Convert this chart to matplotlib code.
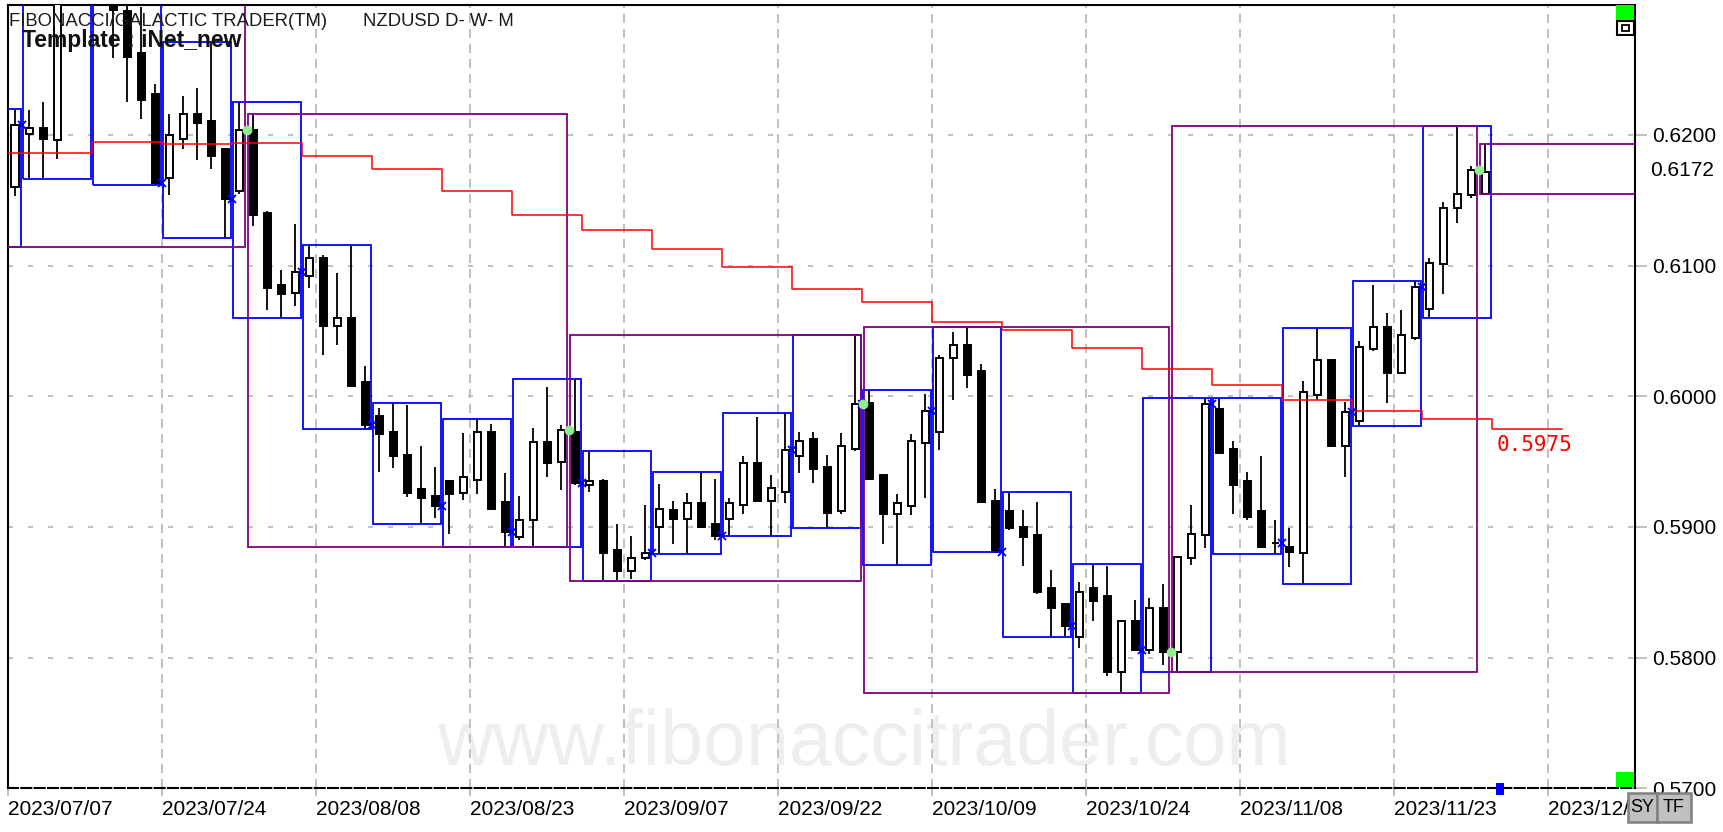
import matplotlib

matplotlib.use("Agg")
import matplotlib.pyplot as plt
import numpy as np
import pandas as pd
from matplotlib.patches import Rectangle
from matplotlib.transforms import Bbox

plt.rcParams["font.family"] = ["Liberation Sans", "DejaVu Sans"]
plt.rcParams["lines.scale_dashes"] = False

W, H = 1724, 832

# NZDUSD daily bars, 2023-07-03 .. 2023-12-01 (first four sit left of the view,
# 07/13-07/17 sit above it)
opens = [
    0.6170, 0.6165, 0.6195, 0.6190, 0.6160, 0.6201, 0.6205, 0.6196, 0.6310, 0.6375,
    0.6365, 0.6335, 0.6295, 0.6263, 0.6231, 0.6167, 0.6197, 0.6216, 0.6211, 0.6189,
    0.6157, 0.6204, 0.6140, 0.6085, 0.6079, 0.6092, 0.6106, 0.6054, 0.6060, 0.6011,
    0.5985, 0.5973, 0.5955, 0.5929, 0.5924, 0.5935, 0.5926, 0.5936, 0.5973, 0.5919,
    0.5892, 0.5905, 0.5965, 0.5950, 0.5973, 0.5932, 0.5935, 0.5882, 0.5866, 0.5876,
    0.5900, 0.5913, 0.5906, 0.5918, 0.5902, 0.5906, 0.5917, 0.5949, 0.5920, 0.5927,
    0.5954, 0.5967, 0.5946, 0.5912, 0.5960, 0.5995, 0.5940, 0.5910, 0.5916, 0.5964,
    0.5973, 0.6029, 0.6039, 0.6019, 0.5920, 0.5912, 0.5900, 0.5894, 0.5853, 0.5841,
    0.5816, 0.5853, 0.5847, 0.5789, 0.5828, 0.5806, 0.5838, 0.5804, 0.5876, 0.5894,
    0.5990, 0.5960, 0.5935, 0.5912, 0.5888, 0.5885, 0.5880, 0.6001, 0.6028, 0.5962,
    0.5981, 0.6036, 0.6053, 0.6018, 0.6045, 0.6067, 0.6101, 0.6144, 0.6154, 0.6155,
]
highs = [
    0.6190, 0.6205, 0.6220, 0.6195, 0.6219, 0.6219, 0.6225, 0.6320, 0.6385, 0.6412,
    0.6390, 0.6345, 0.6300, 0.6298, 0.6239, 0.6216, 0.6230, 0.6236, 0.6271, 0.6190,
    0.6225, 0.6216, 0.6142, 0.6097, 0.6132, 0.6116, 0.6108, 0.6094, 0.6116, 0.6023,
    0.5991, 0.5995, 0.5993, 0.5962, 0.5946, 0.5935, 0.5972, 0.5983, 0.5979, 0.5941,
    0.5924, 0.5976, 0.6007, 0.5978, 0.6013, 0.5958, 0.5937, 0.5902, 0.5893, 0.5917,
    0.5933, 0.5920, 0.5926, 0.5942, 0.5937, 0.5922, 0.5954, 0.5984, 0.5940, 0.5987,
    0.5973, 0.5973, 0.5955, 0.5972, 0.6047, 0.6005, 0.5940, 0.5925, 0.5971, 0.6002,
    0.6032, 0.6049, 0.6053, 0.6025, 0.5929, 0.5927, 0.5913, 0.5919, 0.5867, 0.5841,
    0.5858, 0.5872, 0.5870, 0.5829, 0.5844, 0.5846, 0.5856, 0.5877, 0.5917, 0.5999,
    0.5999, 0.5966, 0.5942, 0.5954, 0.5905, 0.5899, 0.6012, 0.6052, 0.6028, 0.5996,
    0.6042, 0.6085, 0.6064, 0.6066, 0.6088, 0.6106, 0.6149, 0.6207, 0.6176, 0.6193,
]
lows = [
    0.6140, 0.6160, 0.6180, 0.6114, 0.6153, 0.6166, 0.6166, 0.6182, 0.6301, 0.6350,
    0.6320, 0.6259, 0.6225, 0.6212, 0.6162, 0.6154, 0.6189, 0.6181, 0.6174, 0.6121,
    0.6155, 0.6130, 0.6066, 0.6060, 0.6069, 0.6083, 0.6032, 0.6039, 0.6008, 0.5975,
    0.5942, 0.5945, 0.5923, 0.5902, 0.5907, 0.5895, 0.5921, 0.5925, 0.5914, 0.5885,
    0.5890, 0.5885, 0.5938, 0.5928, 0.5932, 0.5927, 0.5859, 0.5859, 0.5860, 0.5875,
    0.5879, 0.5887, 0.5879, 0.5899, 0.5890, 0.5893, 0.5910, 0.5919, 0.5893, 0.5918,
    0.5941, 0.5934, 0.5899, 0.5910, 0.5958, 0.5937, 0.5887, 0.5871, 0.5909, 0.5922,
    0.5959, 0.5997, 0.6006, 0.5919, 0.5881, 0.5898, 0.5870, 0.5849, 0.5816, 0.5816,
    0.5807, 0.5828, 0.5786, 0.5773, 0.5806, 0.5803, 0.5794, 0.5789, 0.5871, 0.5884,
    0.5957, 0.5910, 0.5905, 0.5885, 0.5879, 0.5869, 0.5856, 0.5997, 0.5962, 0.5938,
    0.5977, 0.6035, 0.5995, 0.6018, 0.6043, 0.6060, 0.6078, 0.6133, 0.6152, 0.6155,
]
closes = [
    0.6165, 0.6195, 0.6190, 0.6160, 0.6208, 0.6205, 0.6197, 0.6310, 0.6375, 0.6365,
    0.6335, 0.6296, 0.6260, 0.6227, 0.6163, 0.6200, 0.6216, 0.6209, 0.6184, 0.6151,
    0.6204, 0.6139, 0.6083, 0.6078, 0.6095, 0.6106, 0.6054, 0.6060, 0.6008, 0.5978,
    0.5971, 0.5954, 0.5926, 0.5922, 0.5916, 0.5925, 0.5938, 0.5973, 0.5914, 0.5896,
    0.5905, 0.5965, 0.5949, 0.5974, 0.5934, 0.5935, 0.5880, 0.5866, 0.5876, 0.5880,
    0.5914, 0.5906, 0.5918, 0.5900, 0.5893, 0.5918, 0.5949, 0.5920, 0.5930, 0.5959,
    0.5966, 0.5944, 0.5911, 0.5962, 0.5994, 0.5937, 0.5910, 0.5918, 0.5966, 0.5989,
    0.6029, 0.6039, 0.6016, 0.5919, 0.5881, 0.5899, 0.5892, 0.5850, 0.5838, 0.5824,
    0.5850, 0.5843, 0.5789, 0.5828, 0.5806, 0.5838, 0.5804, 0.5877, 0.5895, 0.5994,
    0.5957, 0.5932, 0.5908, 0.5885, 0.5888, 0.5881, 0.6003, 0.6028, 0.5962, 0.5988,
    0.6038, 0.6053, 0.6018, 0.6047, 0.6084, 0.6102, 0.6144, 0.6155, 0.6173, 0.6172,
]

# weekly step line, one level per week from 07/03 to 12/04
red_levels = [
    0.6186, 0.6186, 0.6195, 0.6193, 0.6194, 0.6184, 0.6174, 0.6157, 0.6139, 0.6127,
    0.6113, 0.6099, 0.6082, 0.6072, 0.6057, 0.6051, 0.6037, 0.6021, 0.6009, 0.5997,
    0.5989, 0.5983, 0.5975,
]

price_ticks = [0.57, 0.58, 0.59, 0.60, 0.61, 0.62]
date_labels = [
    "2023/07/07", "2023/07/24", "2023/08/08", "2023/08/23", "2023/09/07", "2023/09/22",
    "2023/10/09", "2023/10/24", "2023/11/08", "2023/11/23", "2023/12/08",
]
label_bars = list(range(0, 111, 11))

dates = pd.bdate_range("2023-07-03", "2023-12-01")
df = pd.DataFrame(
    {"open": opens, "high": highs, "low": lows, "close": closes}, index=dates
)
df["i"] = np.arange(len(df)) - 4  # bar 0 is 2023/07/07

GRID = "#c0c0c0"
BLUE = "#0000ff"
PURPLE = "#800080"


def fx(px):
    return px / W


def fy(px):
    return 1 - px / H


fig = plt.figure(figsize=(W / 100, H / 100), dpi=100)
ax = fig.add_axes([fx(8), fy(788.3), (1635 - 8) / W, (788.3 - 5) / H])
x_right = (1635 - 15) / 14
ax.set_xlim(-0.5, x_right)
ax.set_ylim(0.57, 0.62 + 130 / 13066)

# grid
for p in price_ticks[1:]:
    ax.axhline(p, color=GRID, lw=1.4, dashes=(3.6, 10.8), zorder=1)
for b in label_bars:
    ax.axvline(b - 0.5, color=GRID, lw=1.4, dashes=(6.5, 4.3), zorder=1)

ax.text(
    fx(864), fy(745), "www.fibonaccitrader.com", transform=fig.transFigure,
    ha="center", va="center", fontsize=55.5, color="#eeeeee", zorder=0.5,
)

# candles
ax.vlines(df["i"], df["low"], df["high"], color="black", lw=1.3, zorder=3)
for xi, o, c in zip(df["i"], df["open"], df["close"]):
    ax.add_patch(
        Rectangle(
            (xi - 0.25, min(o, c)), 0.5, abs(c - o),
            facecolor="white" if c >= o else "black",
            edgecolor="black", lw=1.4, zorder=4,
        )
    )

# weekly ranges
weeks = [g for _, g in df.groupby(df.index.to_period("W"))]
for g in weeks:
    ax.add_patch(
        Rectangle(
            (g["i"].min() - 0.45, g["low"].min()),
            g["i"].max() - g["i"].min() + 0.9,
            g["high"].max() - g["low"].min(),
            fill=False, edgecolor=BLUE, lw=1.3, zorder=5,
        )
    )
for prev, g in zip(weeks[:-1], weeks[1:]):
    ax.plot(g["i"].min() - 0.5, prev["close"].iloc[-1], "x", color=BLUE,
            ms=6, mew=1.3, zorder=6)

# monthly ranges
months = [g for _, g in df.groupby(df.index.to_period("M"))]
for k, g in enumerate(months):
    right = g["i"].max() + 0.4 if k < len(months) - 1 else x_right + 5
    ax.add_patch(
        Rectangle(
            (g["i"].min() - 0.35, g["low"].min()),
            right - g["i"].min() + 0.35,
            g["high"].max() - g["low"].min(),
            fill=False, edgecolor=PURPLE, lw=1.3, zorder=5,
        )
    )
for prev, g in zip(months[:-1], months[1:]):
    ax.plot(g["i"].min() - 0.4, prev["close"].iloc[-1], "o", color="#90ee90",
            ms=7, mec="none", zorder=7)

# weekly step line, projected one week ahead
week_starts = [g["i"].min() - 0.5 for g in weeks] + [df["i"].max() + 0.5]
red_x = week_starts + [week_starts[-1] + 5]
red_y = red_levels + [red_levels[-1]]
ax.step(red_x, red_y, where="post", color="#ff0000", lw=1.1, zorder=5.5)
ax.text(red_x[-2] + 0.3, red_levels[-1] - 0.00125, f"{red_levels[-1]:.4f}",
        color="#ff0000", fontsize=15, family="DejaVu Sans Mono",
        ha="left", va="center", zorder=6)

# axes frame
for side in ("left", "top", "right"):
    ax.spines[side].set_linewidth(1.5)
    ax.spines[side].set_color("black")
ax.spines["bottom"].set_linewidth(1.5)
ax.spines["bottom"].set_linestyle((0, (7.2, 2.4)))

ax.yaxis.tick_right()
ax.set_yticks(price_ticks)
ax.set_yticklabels([f"{p:.4f}" for p in price_ticks])
ax.tick_params(axis="y", length=8.6, width=1.4, color=GRID, pad=3.5, labelsize=15)
ax.set_xticks([b - 0.5 for b in label_bars])
ax.set_xticklabels(date_labels, ha="left")
ax.tick_params(axis="x", length=6, width=1.4, color=GRID, pad=2.5, labelsize=15)

# the SY/TF buttons sit over the end of the last date label
last_label = ax.get_xticklabels()[-1]
last_label.set_clip_box(Bbox.from_extents(0, 0, 1628, H))
last_label.set_clip_on(True)

fig.text(fx(1650), fy(170.7), f"{closes[-1]:.4f}", fontsize=15, va="center")

# header
fig.text(fx(9), fy(21), "FIBONACCI/GALACTIC TRADER(TM)", fontsize=13.3,
         color="#1a1a1a", va="center")
fig.text(fx(363), fy(21), "NZDUSD D- W- M", fontsize=13.3, color="#1a1a1a",
         va="center")
fig.text(fx(22), fy(40), "Template : iNet_new", fontsize=16.5, fontweight="bold",
         color="#111111", va="center")


# corner widgets
def box(x0, y0, x1, y1, **kw):
    fig.add_artist(Rectangle((fx(x0), fy(y1)), (x1 - x0) / W, (y1 - y0) / H,
                             transform=fig.transFigure, **kw))


box(1616, 5, 1634, 20, facecolor="#00ff00", edgecolor="none", zorder=10)
box(1617, 21, 1634, 35, facecolor="white", edgecolor="black", lw=1.5, zorder=10)
box(1622, 25.5, 1629, 30.5, facecolor="white", edgecolor="black", lw=1.3, zorder=11)
box(1616, 772, 1634, 787, facecolor="#00ff00", edgecolor="none", zorder=10)
box(1496, 783, 1504, 795, facecolor=BLUE, edgecolor="none", zorder=10)
box(1628, 793, 1657, 822, facecolor="#c0c0c0", edgecolor="#808080", lw=1.8, zorder=10)
box(1657, 793, 1691, 822, facecolor="#c0c0c0", edgecolor="#808080", lw=1.8, zorder=10)
fig.text(fx(1642.5), fy(808), "SY", fontsize=13, ha="center", va="center", zorder=12)
fig.text(fx(1674), fy(808), "TF", fontsize=13, ha="center", va="center", zorder=12)

fig.savefig("out.png", dpi=100)
